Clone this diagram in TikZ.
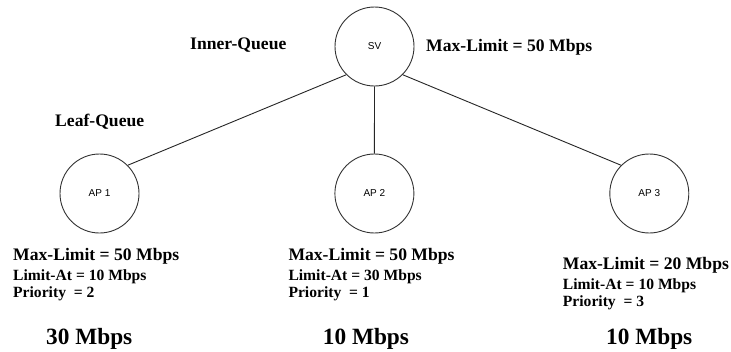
\documentclass[tikz,border=0pt]{standalone}
\usepackage{fontspec}
\setmainfont{Liberation Serif}
\newfontfamily\labelsans{Liberation Sans}
\begin{document}
\begin{tikzpicture}[x=1pt,y=-1pt,
  queue/.style={circle,draw=black!80,line width=0.9pt,minimum size=79pt,inner sep=0pt,
    font=\labelsans\fontsize{10}{12}\selectfont},
  link/.style={draw=black!85,line width=0.9pt},
  txt/.style={anchor=base west,inner sep=0pt,font=\bfseries\fontsize{17.6}{20}\selectfont},
  small/.style={anchor=base west,inner sep=0pt,font=\bfseries\fontsize{15.6}{18}\selectfont},
  rate/.style={anchor=base west,inner sep=0pt,font=\bfseries\fontsize{23.3}{26}\selectfont}]
\useasboundingbox[fill=white] (0,0) rectangle (731,351);

% queue tree
\node[queue] (sv) at (374.5,46.5) {SV};
\node[queue] (ap1) at (99.5,193.5) {AP 1};
\node[queue] (ap2) at (374.4,193.5) {AP 2};
\node[queue] (ap3) at (649.3,193.5) {AP 3};

\draw[link] (sv.south west) -- (ap1.north east);
\draw[link] (sv.south) -- (ap2.north);
\draw[link] (sv.south east) -- (ap3.north west);

% level labels
\node[txt] (inner) at (190,49.5) {Inner-Queue};
\node[txt] (svmax) at (426,51.5) {Max-Limit = 50 Mbps};
\node[txt] (leaf) at (55,126.5) {Leaf-Queue};

% AP 1 settings
\node[txt] (m1) at (13,260) {Max-Limit = 50 Mbps};
\node[small] (l1) at (13,280) {Limit-At = 10 Mbps};
\node[small] (p1) at (13,297.5) {Priority\ \ = 2};
\node[rate] (r1) at (46,344) {30 Mbps};

% AP 2 settings
\node[txt] (m2) at (288.3,260) {Max-Limit = 50 Mbps};
\node[small] (l2) at (288.3,280) {Limit-At = 30 Mbps};
\node[small] (p2) at (288.3,297.5) {Priority\ \ = 1};
\node[rate] (r2) at (322.7,344) {10 Mbps};

% AP 3 settings
\node[txt] (m3) at (562.7,269.3) {Max-Limit = 20 Mbps};
\node[small] (l3) at (562.7,289) {Limit-At = 10 Mbps};
\node[small] (p3) at (562.7,306.7) {Priority\ \ = 3};
\node[rate] (r3) at (606,344) {10 Mbps};
\end{tikzpicture}
\end{document}
